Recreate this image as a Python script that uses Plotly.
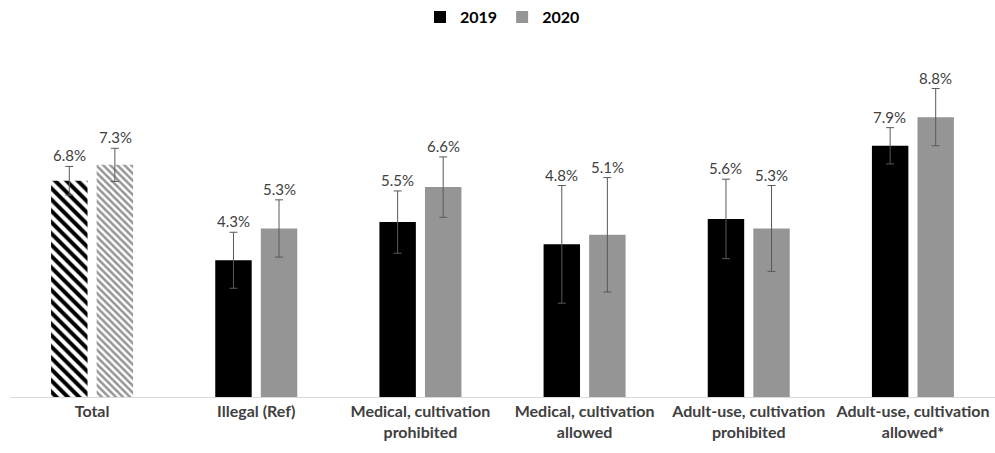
import plotly.graph_objects as go

categories = [
    "Total",
    "Illegal (Ref)",
    "Medical, cultivation<br>prohibited",
    "Medical, cultivation<br>allowed",
    "Adult-use, cultivation<br>prohibited",
    "Adult-use, cultivation<br>allowed*",
]
values_2019 = [6.8, 4.3, 5.5, 4.8, 5.6, 7.9]
values_2020 = [7.3, 5.3, 6.6, 5.1, 5.3, 8.8]
err_2019 = [0.45, 0.88, 0.98, 1.85, 1.25, 0.57]
err_2020 = [0.52, 0.9, 0.95, 1.8, 1.35, 0.9]

BLACK = "#000000"
GRAY = "#959595"
TEXT = "#404040"
FONT = "Lato"

ERR = dict(type="data", color="#595959", thickness=1, width=4)

fig = go.Figure()

series = [
    ("2019", values_2019, err_2019, BLACK, 8, 0.5),
    ("2020", values_2020, err_2020, GRAY, 5, 0.5),
]

# solid bars for the state-policy categories (these carry the legend)
for name, vals, errs, color, _, _ in series:
    fig.add_trace(go.Bar(
        name=name,
        x=categories[1:],
        y=vals[1:],
        offsetgroup=name,
        marker=dict(color=color, line=dict(width=0)),
        error_y=dict(ERR, array=errs[1:]),
    ))

# hatched bars for the overall total
for name, vals, errs, color, size, solid in series:
    fig.add_trace(go.Bar(
        name=name,
        x=categories[:1],
        y=vals[:1],
        offsetgroup=name,
        showlegend=False,
        marker=dict(
            color="white",
            line=dict(width=0),
            pattern=dict(shape="\\", fgcolor=color, bgcolor="white",
                         size=size, solidity=solid, fillmode="replace"),
        ),
        error_y=dict(ERR, array=errs[:1]),
    ))

# value labels above each error bar
for (name, vals, errs, *_), shift in zip(series, (-23, 23)):
    for cat, v, e in zip(categories, vals, errs):
        fig.add_annotation(
            x=cat,
            y=v + e,
            text=f"{v:.1f}%",
            showarrow=False,
            xshift=shift,
            yshift=0,
            yanchor="bottom",
            font=dict(family=FONT, size=15, color=TEXT),
        )

fig.update_layout(
    width=995,
    height=453,
    margin=dict(l=10, r=0, t=79, b=56),
    paper_bgcolor="white",
    plot_bgcolor="white",
    barmode="group",
    bargap=0.445,
    bargroupgap=0.2,
    showlegend=True,
    legend=dict(
        orientation="h",
        x=0.5,
        xanchor="center",
        yref="container",
        y=0.962,
        yanchor="middle",
        font=dict(family=FONT, size=16, color="#000000", weight="bold"),
        itemwidth=30,
        traceorder="normal",
    ),
    xaxis=dict(
        showline=True,
        linecolor="#d9d9d9",
        linewidth=1,
        showgrid=False,
        ticks="",
        categoryorder="array",
        categoryarray=categories,
        tickfont=dict(family=FONT, size=16, color=TEXT, weight="bold"),
    ),
    yaxis=dict(
        range=[0, 10],
        visible=False,
        showgrid=False,
        zeroline=False,
    ),
)

fig.write_html("out.html")
